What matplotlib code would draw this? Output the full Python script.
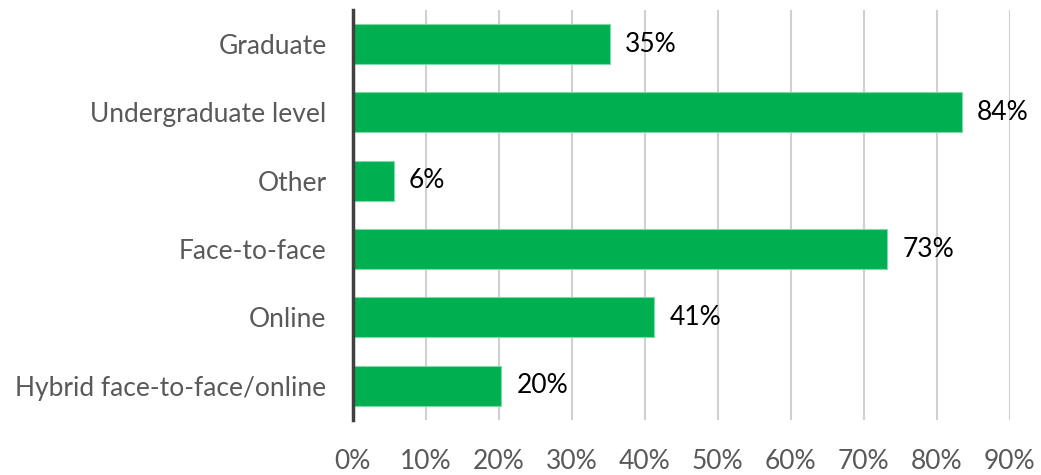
import matplotlib
matplotlib.use("Agg")
import matplotlib.pyplot as plt
from matplotlib.ticker import FuncFormatter

# data (top to bottom as in the chart)
categories = ['Graduate', 'Undergraduate level', 'Other', 'Face-to-face', 'Online',
              'Hybrid face-to-face/online']
values = [35.2, 83.4, 5.6, 73.2, 41.3, 20.3]
labels = ['35%', '84%', '6%', '73%', '41%', '20%']
xticks = [0, 10, 20, 30, 40, 50, 60, 70, 80, 90]

plt.rcParams['font.family'] = ['Lato', 'DejaVu Sans']

fig = plt.figure(figsize=(10.41, 4.75), dpi=100)
ax = fig.add_axes([0.339, 0.116, 0.631, 0.863])

ypos = list(range(len(categories)))[::-1]
ax.barh(ypos, values, height=0.585, color='#00B050', edgecolor='#7fd8a7', linewidth=0.8, zorder=3)

for y, v, lab in zip(ypos, values, labels):
    ax.annotate(lab, (v, y), xytext=(11, 0), textcoords='offset points',
                va='center', ha='left', fontsize=19, color='black')

ax.set_xlim(0, 90)
ax.set_ylim(-0.5, len(categories) - 0.5)
ax.set_xticks(xticks)
ax.xaxis.set_major_formatter(FuncFormatter(lambda x, p: f'{x:.0f}%'))
ax.set_yticks(ypos)
ax.set_yticklabels(categories)
ax.tick_params(axis='x', length=0, pad=21, labelsize=19, labelcolor='#595959')
ax.tick_params(axis='y', length=0, pad=19, labelsize=19, labelcolor='#595959')

ax.grid(axis='x', color='#d0d0d0', linewidth=1.5, zorder=0)
for s in ['top', 'right', 'bottom']:
    ax.spines[s].set_visible(False)
ax.spines['left'].set_color('#404040')
ax.spines['left'].set_linewidth(2.5)
ax.spines['left'].set_zorder(4)

fig.savefig('out.png', dpi=100)
